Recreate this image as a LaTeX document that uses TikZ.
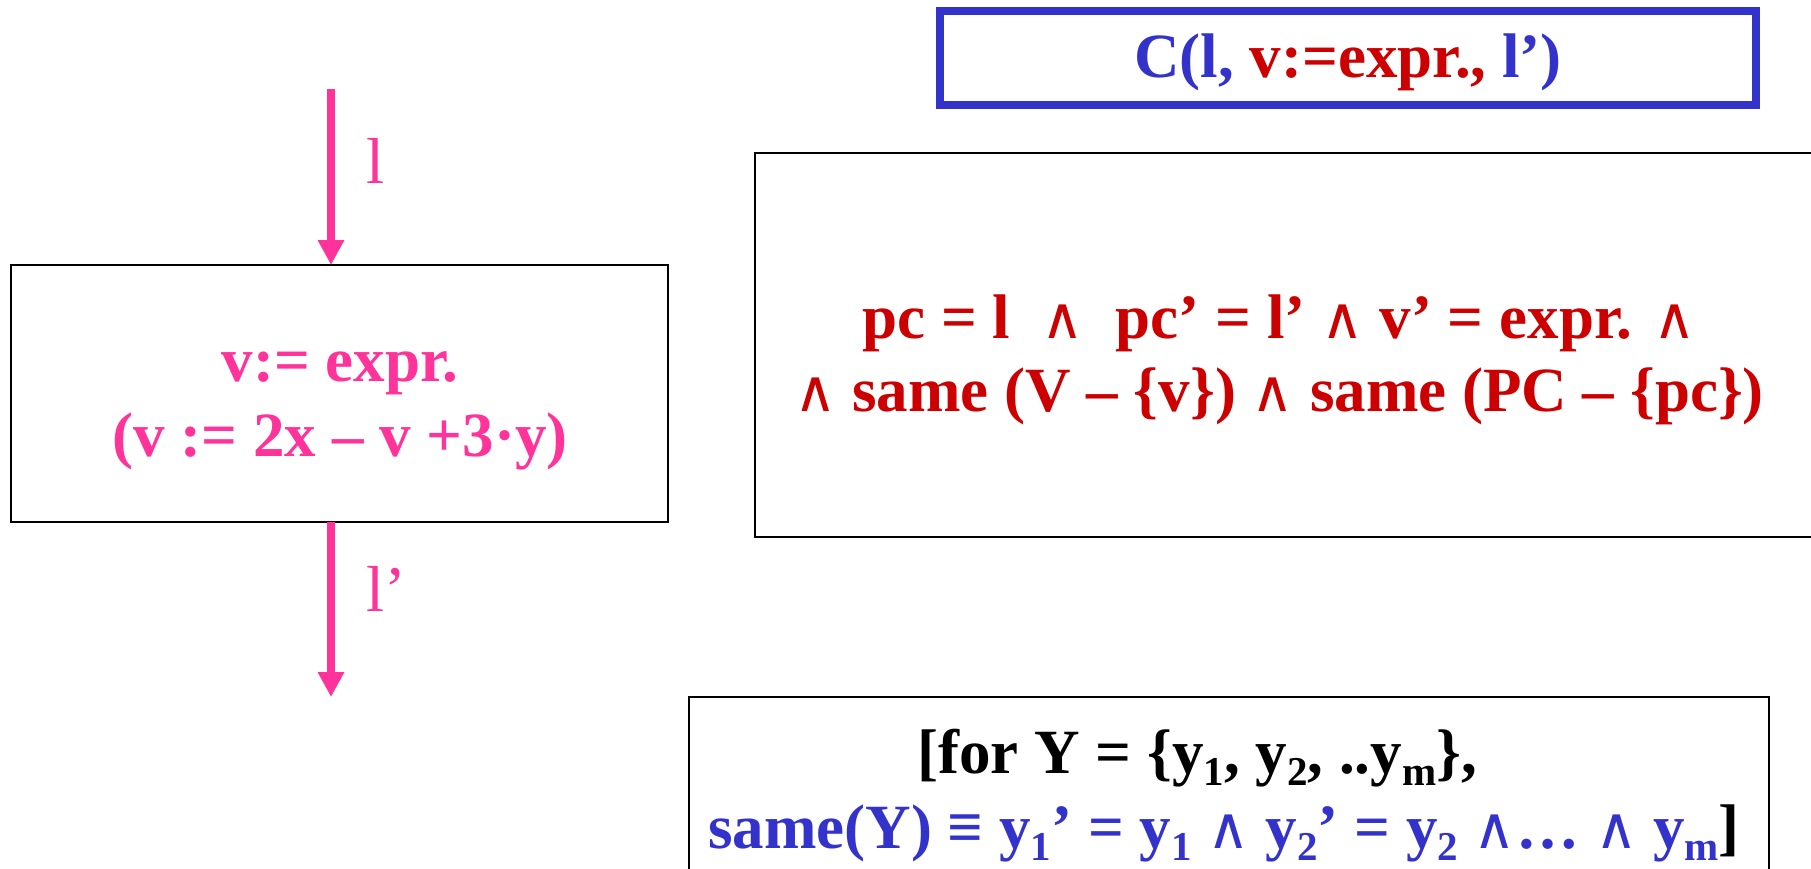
\documentclass[tikz,border=0pt]{standalone}
\usepackage{fontspec}
\setmainfont{Liberation Serif}
\newfontfamily\symf{DejaVu Sans}
\usetikzlibrary{arrows.meta}
\definecolor{pinkc}{RGB}{255,51,153}
\definecolor{bluec}{RGB}{51,51,204}
\definecolor{redc}{RGB}{204,0,0}
\newcommand\myand{{\symf\mdseries\fontsize{58}{70}\selectfont ∧}}
\newcommand\mysub[1]{\raisebox{-12pt}{\fontsize{41}{41}\selectfont #1}}
\begin{document}
\begin{tikzpicture}[x=1pt,y=-1pt,
  txt/.style={font=\fontsize{63}{76}\selectfont\bfseries, inner sep=0pt, anchor=base},
  lbl/.style={font=\fontsize{65}{78}\selectfont, text=pinkc, inner sep=0pt, anchor=base west},
  bbox/.style={draw=black, line width=2pt, inner sep=0pt, outer sep=0pt, rectangle},
  parrow/.style={draw=pinkc, line width=8pt, -{Triangle[length=25pt,width=25pt]}}]
\clip (0,0) rectangle (1811,869);
\fill[white] (0,0) rectangle (1811,869);
% title box
\node[bbox, draw=bluec, line width=7.5pt, minimum width=816pt, minimum height=94pt] (title) at (1348,58) {};
\node[txt] (titletext) at (1348,78) {\color{bluec}C(l, {\color{redc}v:=expr.,} l’)};
% condition box
\node[bbox, minimum width=1070pt, minimum height=384pt] (cbox) at (1290,345) {};
\node[txt, text=redc] (c1) at (1279,338) {pc = l\ \ \myand\ \ pc’ = l’ \myand{} v’ = expr. \myand};
\node[txt, text=redc] (c2) at (1279,411) {\myand{} same (V – \{v\}) \myand{} same (PC – \{pc\})};
% left statement box
\node[bbox, minimum width=657pt, minimum height=257pt] (lbox) at (339.5,393.5) {};
\node[txt, text=pinkc] (l1) at (340,381) {v:= expr.};
\node[txt, text=pinkc] (l2) at (340,456) {(v := 2x – v +3·y)};
% arrows
\coordinate (in) at (331,89);
\coordinate (out) at (331,697);
\draw[parrow] (in) -- (in |- lbox.north);
\draw[parrow] (in |- lbox.south) -- (out);
\node[lbl] (lab1) at (366,184) {l};
\node[lbl] (lab2) at (366,611) {l’};
% same box
\node[bbox, minimum width=1080pt, minimum height=250pt] (sbox) at (1229,822) {};
\node[txt] (s1) at (1197,773) {[for Y = \{y\mysub{1}, y\mysub{2}, ..y\mysub{m}\},};
\node[txt] (s2) at (1224,848) {\color{bluec}same(Y) ≡ y\mysub{1}’ = y\mysub{1} \myand{} y\mysub{2}’ = y\mysub{2} \myand{}… \myand{} y\mysub{m}\color{black}]};
\end{tikzpicture}
\end{document}
